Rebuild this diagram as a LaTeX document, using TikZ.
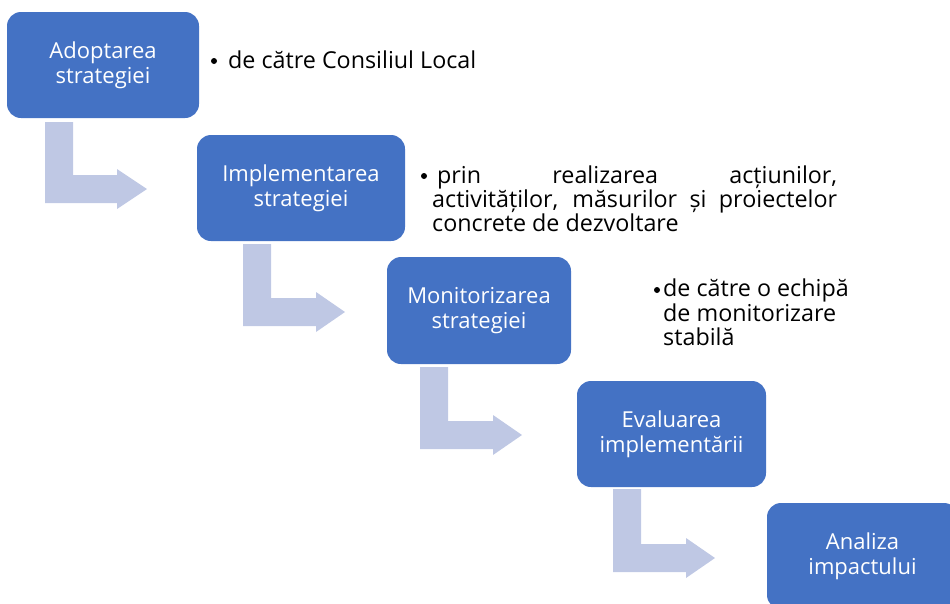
\documentclass[tikz,border=0pt]{standalone}
\usepackage{fontspec}
\setmainfont{Open Sans}
\definecolor{boxblue}{HTML}{4472C4}
\definecolor{arrowblue}{HTML}{BFC8E4}
\newcommand{\bentarrow}[5]{%
  \fill[arrowblue] (#1,#2) -- ({#1+28},#2) -- ({#1+28},{#3-28}) -- (#4,{#3-28})
    -- (#4,{#3-34}) -- (#5,{#3-14}) -- (#4,{#3+6}) -- (#4,#3) -- (#1,#3) -- cycle;}
\begin{document}
\begin{tikzpicture}[x=1pt,y=-1pt,
  stepbox/.style={fill=boxblue, rounded corners=14pt, text=white, align=center,
    inner sep=0pt, font=\fontsize{22}{25}\selectfont},
  note/.style={font=\fontsize{23.3}{24}\selectfont, inner sep=0pt, text=black},
  dot/.style={circle, fill=black, inner sep=0pt, minimum size=6pt}]
\useasboundingbox (0,0) rectangle (950,603);
\clip (0,0) rectangle (950,603);
% arrows
\bentarrow{45}{122}{203}{117}{147}
\bentarrow{243}{244}{326}{316}{345}
\bentarrow{420}{367}{449}{493}{522}
\bentarrow{613}{489}{572}{686}{715}
% boxes
\node[stepbox, minimum width=192pt, minimum height=106pt] (b1) at (103,65) {Adoptarea\\strategiei};
\node[stepbox, minimum width=208pt, minimum height=106pt] (b2) at (301,188) {Implementarea\\strategiei};
\node[stepbox, minimum width=184pt, minimum height=107pt] (b3) at (479,310.5) {Monitorizarea\\strategiei};
\node[stepbox, minimum width=189pt, minimum height=106pt] (b4) at (671.5,434) {Evaluarea\\implementării};
\node[stepbox, minimum width=191pt, minimum height=106pt] (b5) at (862.5,556) {Analiza\\impactului};
% notes
\node[dot] (n1b) at (214,61) {};
\node[note, anchor=base west] (n1) at (228,68) {de către Consiliul Local};
\node[dot] (n2b) at (424,176) {};
\node[note, anchor=base west] (n2a) at (437,183) {\makebox[400pt][s]{prin realizarea acțiunilor,}};
\node[note, anchor=base west] (n2c) at (432,207) {\makebox[405pt][s]{activităților, măsurilor și proiectelor}};
\node[note, anchor=base west] (n2d) at (432,231) {concrete de dezvoltare};
\node[dot] (n3b) at (657,290) {};
\node[note, anchor=base west] (n3a) at (663,296) {de către o echipă};
\node[note, anchor=base west] (n3c) at (663,321) {de monitorizare};
\node[note, anchor=base west] (n3d) at (663,345) {stabilă};
\end{tikzpicture}
\end{document}
